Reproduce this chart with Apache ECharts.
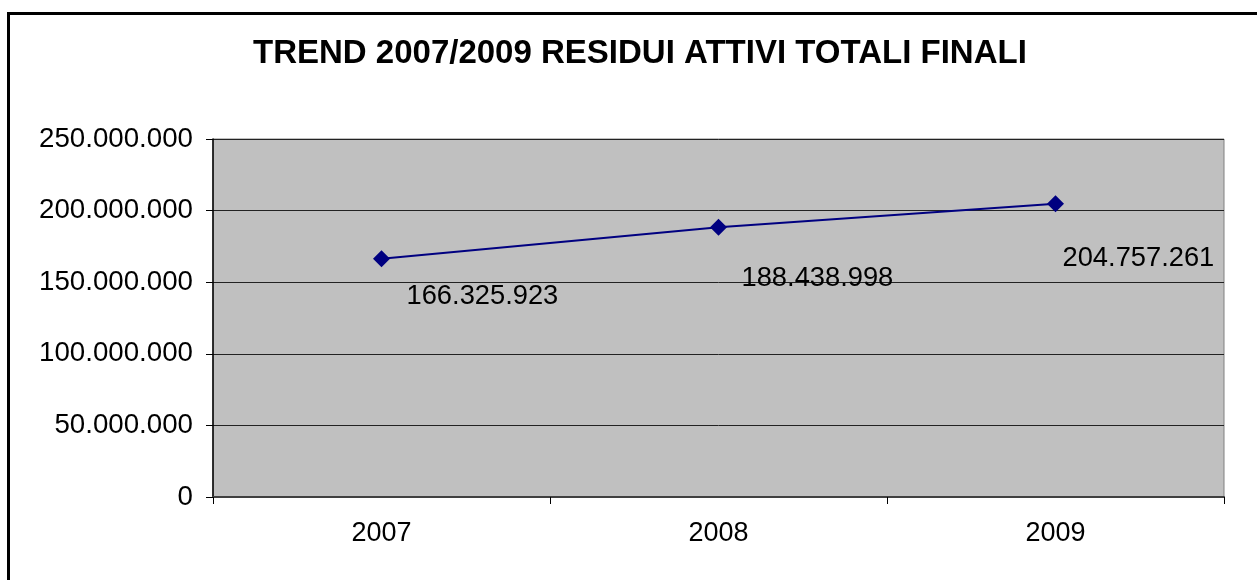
<!DOCTYPE html>
<html>
<head>
<meta charset="utf-8">
<script src="https://cdn.jsdelivr.net/npm/echarts@6/dist/echarts.min.js"></script>
<style>
  html, body { margin: 0; padding: 0; background: #ffffff; }
  #chart { width: 1257px; height: 580px; }
</style>
</head>
<body>
<div id="chart"></div>
<script>
// Residui attivi totali finali, per anno
const anni = ['2007', '2008', '2009'];
const residui = [166325923, 188438998, 204757261];
// Scostamento delle etichette dal punto [dx, dy]
const spostamentiEtichette = [[25, 38], [23, 51], [7, 55]];
const titolo = 'TREND 2007/2009 RESIDUI ATTIVI TOTALI FINALI';

// Formato numerico italiano: punto come separatore delle migliaia
function formatoIt(v) {
  return String(Math.round(v)).replace(/\B(?=(\d{3})+(?!\d))/g, '.');
}

const FONT = '"Liberation Sans", Arial, sans-serif';

const chart = echarts.init(document.getElementById('chart'), null, { renderer: 'canvas' });

chart.setOption({
  backgroundColor: '#ffffff',
  animation: false,
  title: {
    text: titolo,
    left: 248,
    top: 32,
    textStyle: { fontFamily: FONT, fontSize: 33, fontWeight: 'bold', color: '#000000' }
  },
  graphic: [{
    type: 'rect',
    shape: { x: 8.5, y: 13.5, width: 1400, height: 700 },
    style: { fill: 'none', stroke: '#000000', lineWidth: 3 },
    silent: true
  }],
  grid: {
    left: 213, top: 139, right: 33, bottom: 83,
    show: true,
    backgroundColor: '#C0C0C0',
    borderColor: '#808080',
    borderWidth: 1
  },
  xAxis: {
    type: 'category',
    data: anni,
    boundaryGap: true,
    axisLine: { show: true, lineStyle: { color: '#404040', width: 2 } },
    axisTick: { show: true, length: 7, lineStyle: { color: '#000000', width: 1 } },
    axisLabel: { margin: 23, fontFamily: FONT, fontSize: 27, color: '#000000' },
    splitLine: { show: false }
  },
  yAxis: {
    type: 'value',
    min: 0,
    max: 250000000,
    interval: 50000000,
    axisLine: { show: true, lineStyle: { color: '#000000', width: 1.5 } },
    axisTick: { show: true, length: 7, lineStyle: { color: '#000000', width: 1 } },
    axisLabel: {
      margin: 20,
      padding: [3, 0, 0, 0],
      fontFamily: FONT, fontSize: 27.7, color: '#000000',
      formatter: formatoIt
    },
    splitLine: { show: true, lineStyle: { color: '#222222', width: 1 } }
  },
  series: [{
    type: 'line',
    data: residui.map((v, i) => ({
      value: v,
      label: { offset: spostamentiEtichette[i] }
    })),
    symbol: 'diamond',
    symbolSize: 17,
    itemStyle: { color: '#000080' },
    lineStyle: { color: '#000080', width: 2 },
    label: {
      show: true,
      position: 'inside',
      align: 'left',
      verticalAlign: 'middle',
      fontFamily: FONT,
      fontSize: 27.3,
      color: '#000000',
      formatter: p => formatoIt(p.value)
    }
  }]
});
</script>
</body>
</html>
